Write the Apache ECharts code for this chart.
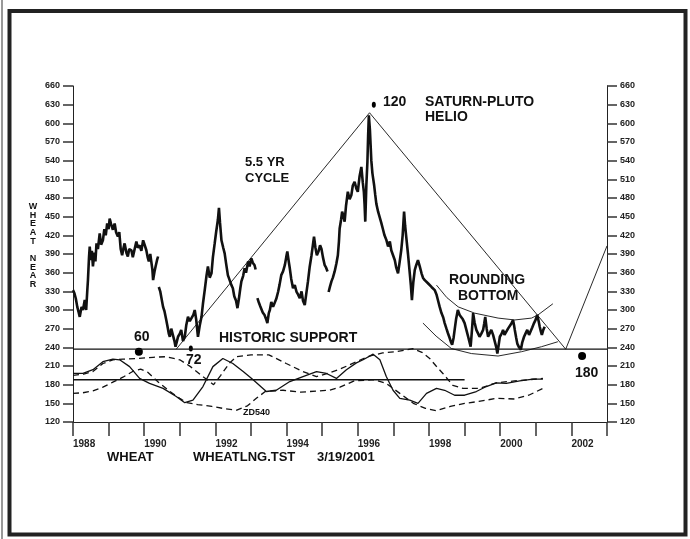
<!DOCTYPE html>
<html>
<head>
<meta charset="utf-8">
<script src="https://cdn.jsdelivr.net/npm/echarts@6/dist/echarts.min.js"></script>
<style>
    html, body {margin: 0; padding: 0; background: #fff;}
    #wheat_graph {width: 690px; height: 539px;}
</style>
</head>
<body>
<div id="wheat_graph"></div>
<script>
//====================数据部分========================
//小麦近月价格（按合约换月分段）
var price88 = [[1988.00,332],[1988.04,327],[1988.08,318],[1988.12,305],[1988.16,296],[1988.19,289],[1988.24,305],[1988.28,300],[1988.33,316],[1988.37,300],[1988.40,330],[1988.42,348],[1988.45,385],[1988.47,402],[1988.50,380],[1988.53,395],[1988.56,370],[1988.60,392],[1988.63,378],[1988.66,407],[1988.70,398],[1988.75,423],[1988.79,405],[1988.84,412],[1988.88,430],[1988.92,420],[1988.96,439],[1989.00,430],[1989.03,447],[1989.07,438],[1989.12,429],[1989.17,439],[1989.21,425],[1989.26,418],[1989.30,425],[1989.34,398],[1989.38,388],[1989.42,400],[1989.45,407],[1989.50,392],[1989.54,386],[1989.58,398],[1989.64,396],[1989.68,385],[1989.73,388],[1989.78,410],[1989.82,400],[1989.87,404],[1989.92,395],[1989.97,412],[1990.01,405],[1990.06,396],[1990.10,384],[1990.13,378],[1990.17,390],[1990.20,388],[1990.23,365],[1990.25,348],[1990.29,362],[1990.32,370],[1990.36,380],[1990.39,386]];
var price90 = [[1990.41,337],[1990.45,330],[1990.48,327],[1990.53,305],[1990.57,298],[1990.62,284],[1990.66,272],[1990.69,262],[1990.72,257],[1990.76,270],[1990.81,268],[1990.85,250],[1990.88,241],[1990.92,250],[1990.95,257],[1991.00,262],[1991.04,268],[1991.09,250],[1991.14,257],[1991.18,275],[1991.23,289],[1991.28,282],[1991.33,279],[1991.38,292],[1991.42,300],[1991.46,285],[1991.51,257],[1991.56,275],[1991.61,289],[1991.65,310],[1991.70,332],[1991.75,355],[1991.79,370],[1991.84,352],[1991.89,359],[1991.93,385],[1991.98,407],[1992.02,425],[1992.07,445],[1992.10,464],[1992.13,440],[1992.17,412],[1992.22,400],[1992.26,391],[1992.30,375],[1992.35,356],[1992.40,348],[1992.45,340],[1992.49,335],[1992.53,322],[1992.58,315],[1992.62,303],[1992.66,318],[1992.70,335],[1992.73,346],[1992.78,355],[1992.82,367],[1992.86,360],[1992.92,378],[1992.96,370],[1993.01,383],[1993.05,376],[1993.10,372],[1993.13,365]];
var price93 = [[1993.18,319],[1993.22,312],[1993.26,306],[1993.29,303],[1993.33,296],[1993.38,292],[1993.42,286],[1993.46,279],[1993.50,295],[1993.53,300],[1993.57,313],[1993.62,305],[1993.67,303],[1993.71,318],[1993.76,329],[1993.80,340],[1993.85,356],[1993.90,362],[1993.95,372],[1993.99,385],[1994.02,394],[1994.06,378],[1994.09,367],[1994.13,350],[1994.18,335],[1994.23,340],[1994.28,329],[1994.32,325],[1994.37,319],[1994.42,330],[1994.46,315],[1994.51,308],[1994.55,325],[1994.60,346],[1994.65,370],[1994.70,388],[1994.74,405],[1994.77,418],[1994.81,400],[1994.85,388],[1994.90,395],[1994.94,404],[1994.98,398],[1995.02,385],[1995.07,372],[1995.11,368],[1995.15,362]];
var price95 = [[1995.18,329],[1995.22,338],[1995.26,346],[1995.30,352],[1995.35,362],[1995.40,375],[1995.44,388],[1995.47,410],[1995.49,431],[1995.53,445],[1995.56,458],[1995.60,450],[1995.63,442],[1995.67,468],[1995.72,490],[1995.77,478],[1995.82,485],[1995.86,500],[1995.91,506],[1995.96,495],[1996.00,490],[1996.05,515],[1996.10,530],[1996.14,505],[1996.17,490],[1996.19,470],[1996.21,442],[1996.24,500],[1996.27,538],[1996.29,580],[1996.31,613],[1996.34,590],[1996.36,565],[1996.38,540],[1996.41,520],[1996.43,512],[1996.46,500],[1996.49,485],[1996.52,471],[1996.57,458],[1996.62,455],[1996.66,440],[1996.71,429],[1996.75,420],[1996.80,413],[1996.85,402],[1996.90,410],[1996.94,396],[1996.99,388],[1997.04,380],[1997.08,368],[1997.13,359],[1997.17,375],[1997.22,396],[1997.26,420],[1997.30,458],[1997.33,435],[1997.36,418],[1997.41,390],[1997.46,359],[1997.49,340],[1997.52,316],[1997.56,345],[1997.60,364],[1997.64,372],[1997.69,380],[1997.74,370],[1997.79,359],[1997.83,352],[1997.88,348],[1997.93,350],[1997.97,343],[1998.02,340],[1998.07,337],[1998.11,335],[1998.16,332],[1998.21,325],[1998.25,316],[1998.30,305],[1998.35,295],[1998.40,288],[1998.44,279],[1998.49,270],[1998.53,263],[1998.58,255],[1998.62,248],[1998.65,244],[1998.69,255],[1998.72,268],[1998.76,285],[1998.81,300],[1998.86,292],[1998.91,289],[1998.95,285],[1999.00,279],[1999.05,268],[1999.10,257],[1999.14,248],[1999.17,241],[1999.21,270],[1999.24,295],[1999.28,280],[1999.33,268],[1999.38,262],[1999.42,257],[1999.47,262],[1999.52,268],[1999.55,278],[1999.58,289],[1999.62,270],[1999.66,257],[1999.70,262],[1999.75,268],[1999.80,260],[1999.85,257],[1999.89,240],[1999.92,230],[1999.96,245],[1999.99,257],[2000.04,262],[2000.08,268],[2000.12,260],[2000.17,263],[2000.22,270],[2000.27,273],[2000.31,278],[2000.36,284],[2000.39,275],[2000.41,268],[2000.45,255],[2000.48,246],[2000.53,240],[2000.58,236],[2000.62,248],[2000.67,257],[2000.71,262],[2000.76,268],[2000.81,260],[2000.86,263],[2000.90,272],[2000.95,279],[2001.00,285],[2001.04,292],[2001.08,282],[2001.11,273],[2001.14,266],[2001.17,260],[2001.21,268],[2001.25,273]];

//振荡指标（实线 + 两条虚线）
var oscSolid = [[1988.00,198],[1988.28,198],[1988.56,204],[1988.84,217],[1989.12,221],[1989.31,220],[1989.59,209],[1989.87,190],[1990.15,182],[1990.53,174],[1990.90,161],[1991.14,151],[1991.37,155],[1991.65,177],[1991.93,209],[1992.21,222],[1992.49,214],[1992.78,201],[1993.06,188],[1993.43,169],[1993.71,171],[1994.09,185],[1994.46,193],[1994.84,201],[1995.12,198],[1995.40,190],[1995.68,204],[1995.96,215],[1996.15,220],[1996.43,229],[1996.62,220],[1996.80,193],[1996.99,171],[1997.18,158],[1997.46,155],[1997.69,150],[1997.93,166],[1998.21,174],[1998.44,171],[1998.72,163],[1999.00,163],[1999.33,169],[1999.61,177],[1999.89,183],[2000.17,182],[2000.55,186],[2000.92,189],[2001.20,189]];
var oscDashA = [[1988.00,195],[1988.30,197],[1988.56,201],[1988.84,214],[1989.12,220],[1989.40,221],[1989.78,222],[1990.25,224],[1990.62,225],[1991.00,220],[1991.30,209],[1991.65,193],[1991.95,180],[1992.15,195],[1992.40,215],[1992.60,225],[1993.00,228],[1993.50,228],[1993.99,214],[1994.46,201],[1994.84,193],[1995.20,199],[1995.50,205],[1995.77,212],[1996.05,219],[1996.33,226],[1996.70,231],[1997.08,233],[1997.55,238],[1997.80,232],[1998.02,222],[1998.20,210],[1998.39,198],[1998.67,179],[1998.96,174],[1999.42,174],[1999.89,183],[2000.40,186],[2000.80,188],[2001.20,190]];
var oscDashB = [[1988.00,166],[1988.28,167],[1988.56,170],[1988.84,176],[1989.12,184],[1989.40,192],[1989.70,202],[1989.90,205],[1990.10,200],[1990.40,184],[1990.70,170],[1991.00,158],[1991.20,151],[1991.50,148],[1991.90,145],[1992.30,141],[1992.60,139],[1992.90,146],[1993.15,158],[1993.40,169],[1993.90,171],[1994.40,168],[1994.90,170],[1995.20,171],[1995.50,176],[1995.90,186],[1996.45,188],[1996.80,182],[1997.18,166],[1997.56,150],[1997.90,142],[1998.20,138],[1998.60,145],[1999.00,150],[1999.40,153],[1999.89,158],[2000.40,157],[2000.80,163],[2001.20,174]];

//趋势线
var cycleLine = [[1990.90,237],[1996.33,617],[2001.84,237],[2003.00,403]];
var supportLine = [[1988,237],[2003,237]];
var midLine = [[1988,188],[1999,188]];
var roundTop = [[1998.21,340],[1998.50,320],[1998.82,305],[1999.28,295],[1999.94,287],[2000.41,284],[2000.88,287],[2001.06,292],[2001.48,310]];
var roundBottom = [[1997.83,279],[1998.20,258],[1998.63,238],[1999.19,230],[1999.94,226],[2000.60,233],[2001.16,241],[2001.62,249]];

//标记点
var bigDots = [[1989.85,233],[2002.30,226]];
var smallDots = [[1991.31,238],[1996.45,630]];

//坐标轴
var yearMin = 1988, yearMax = 2003;
var priceMin = 120, priceMax = 660, priceStep = 30;

var FONT = "'Liberation Sans', Arial, sans-serif";

//====================绘图部分========================
function txt(x, y, s, size, align) {
    return {
        type: 'text', x: x, y: y, z: 100,
        style: {
            text: s, fill: '#111',
            font: 'bold ' + size + 'px ' + FONT,
            textAlign: align || 'left', textVerticalAlign: 'middle'
        }
    };
}

function lineSeries(data, width, dashed) {
    return {
        type: 'line', data: data, symbol: 'none', silent: true,
        lineStyle: {color: '#111', width: width, type: dashed ? [6, 4] : 'solid'}
    };
}

function yAxisOf(pos) {
    return {
        type: 'value', position: pos, min: priceMin, max: priceMax, interval: priceStep,
        axisLine: {show: true, lineStyle: {color: '#222', width: 1}},
        axisTick: {show: true, inside: false, length: 10, lineStyle: {color: '#333', width: 1.5}},
        axisLabel: {color: '#222', fontSize: 9, fontWeight: 'bold', fontFamily: FONT, margin: 13},
        splitLine: {show: false}
    };
}

function wheatGraph() {
    var wheat_graph = echarts.init(document.getElementById('wheat_graph'));
    var series = [
        lineSeries(price88, 2.6), lineSeries(price90, 2.6),
        lineSeries(price93, 2.6), lineSeries(price95, 2.6),
        lineSeries(oscSolid, 1.3), lineSeries(oscDashA, 1.3, true), lineSeries(oscDashB, 1.3, true),
        lineSeries(cycleLine, 0.9), lineSeries(supportLine, 1.2), lineSeries(midLine, 1.4),
        lineSeries(roundTop, 0.9), lineSeries(roundBottom, 0.9),
        {type: 'scatter', data: bigDots, symbolSize: 8, silent: true,
            itemStyle: {color: '#000', opacity: 1}},
        {type: 'scatter', data: smallDots, symbolSize: [4, 6], silent: true,
            itemStyle: {color: '#000', opacity: 1}}
    ];
    var option = {
        backgroundColor: '#fff',
        animation: false,
        grid: {left: 73, right: 83, top: 86, bottom: 117},
        xAxis: {
            type: 'value', min: yearMin, max: yearMax, interval: 1,
            axisLine: {show: true, onZero: false, lineStyle: {color: '#222', width: 1.2}},
            axisTick: {show: true, length: 14, lineStyle: {color: '#333', width: 1.5}},
            axisLabel: {
                color: '#222', fontSize: 10, fontWeight: 'bold', fontFamily: FONT,
                align: 'left', margin: 17,
                formatter: function (v) {
                    return (v % 2 === 0 && v < yearMax) ? String(v) : '';
                }
            },
            splitLine: {show: false}
        },
        yAxis: [yAxisOf('left'), yAxisOf('right')],
        series: series,
        graphic: [
            {type: 'rect', shape: {x: 9.5, y: 11, width: 676, height: 523.5},
                style: {fill: 'none', stroke: '#222', lineWidth: 4}, z: 100},
            {type: 'line', shape: {x1: 2, y1: 0, x2: 2, y2: 539},
                style: {stroke: '#555', lineWidth: 1.2}, z: 100},
            {type: 'text', x: 33, y: 202, z: 100,
                style: {text: 'W\nH\nE\nA\nT\n\nN\nE\nA\nR', fill: '#111',
                    font: 'bold 9px ' + FONT, lineHeight: 8.7,
                    textAlign: 'center', textVerticalAlign: 'top'}},
            txt(383, 102, '120', 14),
            txt(425, 102, 'SATURN-PLUTO', 14),
            txt(425, 117.5, 'HELIO', 14),
            txt(245, 162, '5.5 YR', 13),
            txt(245, 178, 'CYCLE', 13),
            txt(449, 280, 'ROUNDING', 14),
            txt(458, 296, 'BOTTOM', 14),
            txt(219, 338, 'HISTORIC SUPPORT', 14),
            txt(134, 337, '60', 14),
            txt(186, 360, '72', 14),
            txt(575, 373, '180', 14),
            txt(243, 413, 'ZD540', 9),
            txt(107, 457, 'WHEAT', 13),
            txt(193, 457, 'WHEATLNG.TST', 13),
            txt(317, 457, '3/19/2001', 13)
        ]
    };
    wheat_graph.setOption(option);
}

wheatGraph();
</script>
</body>
</html>
